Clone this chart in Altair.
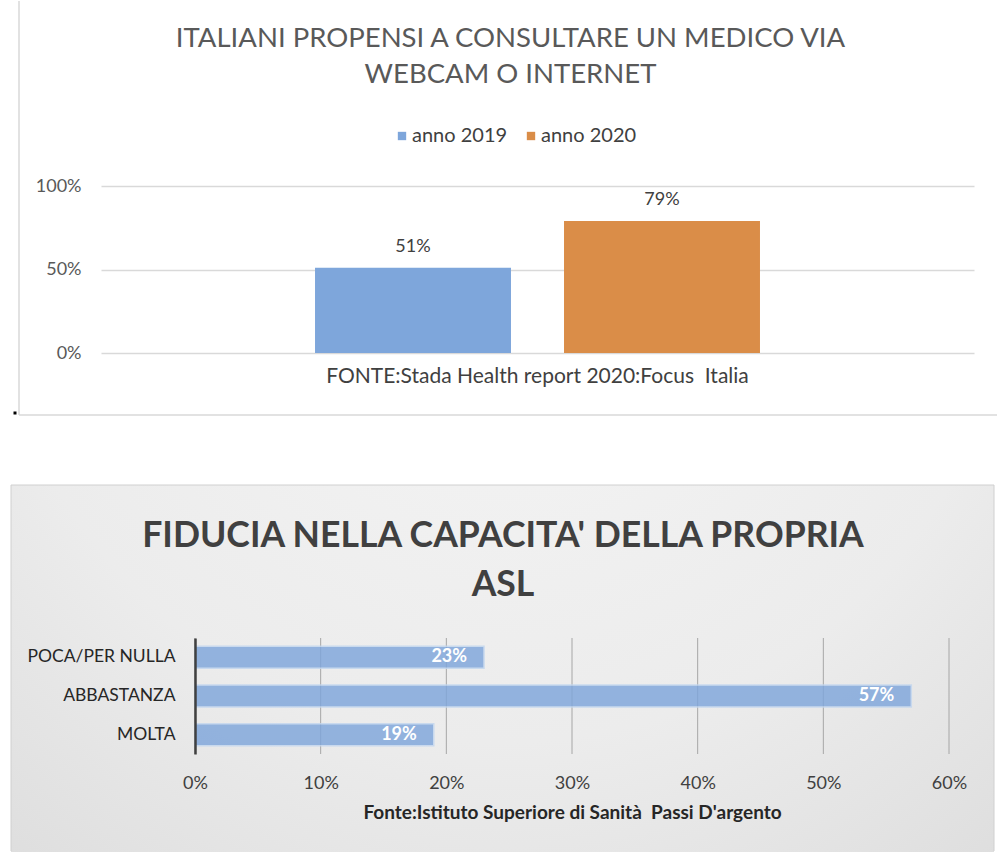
import altair as alt
import pandas as pd

# --- data -------------------------------------------------------------
years = ["anno 2019", "anno 2020"]
propensi = [0.51, 0.79]
fonte_top = "FONTE:Stada Health report 2020:Focus\u00a0 Italia"
year_colors = ["#7EA6DB", "#DA8D48"]

livelli = ["POCA/PER NULLA", "ABBASTANZA", "MOLTA"]
fiducia = [0.23, 0.57, 0.19]
fiducia_ticks = [0.0, 0.1, 0.2, 0.3, 0.4, 0.5, 0.6]
fonte_bottom = "Fonte:Istituto Superiore di Sanità\u00a0 Passi D'argento"

FONT = "Lato"

top_df = pd.DataFrame({"fonte": [fonte_top] * len(years), "anno": years, "quota": propensi})
bot_df = pd.DataFrame({"livello": livelli, "quota": fiducia})
tick_df = pd.DataFrame({"quota": fiducia_ticks})
frame = alt.Data(values=[{"k": 0}])

# --- top chart: vertical grouped bars ---------------------------------
x_top = alt.X(
    "fonte:N", title=None,
    scale=alt.Scale(paddingInner=0, paddingOuter=0.481),
    axis=alt.Axis(labelAngle=0, domain=False, ticks=False, labelPadding=12,
                  labelFontSize=21, labelColor="#404040", labelLimit=0),
)
xo_top = alt.XOffset("anno:N", sort=years,
                     scale=alt.Scale(paddingInner=0.213, paddingOuter=0))
y_top = alt.Y(
    "quota:Q", title=None, scale=alt.Scale(domain=[0, 1]),
    axis=alt.Axis(values=[0, 0.5, 1], format=".0%", domain=False, ticks=False,
                  labelPadding=20, labelFontSize=18, labelColor="#595959",
                  gridColor="#d9d9d9", gridWidth=1.5),
)

bars_top = alt.Chart(top_df).mark_bar().encode(
    x=x_top, xOffset=xo_top, y=y_top,
    color=alt.Color(
        "anno:N", sort=years,
        scale=alt.Scale(domain=years, range=year_colors),
        legend=alt.Legend(title=None, orient="none", legendX=291, legendY=-60,
                          direction="horizontal", symbolType="square",
                          symbolSize=70, symbolStrokeWidth=0,
                          labelFontSize=20, labelColor="#404040",
                          columnPadding=13, labelOffset=0),
    ),
)
labels_top = alt.Chart(top_df).mark_text(
    baseline="alphabetic", dy=-16, fontSize=18, color="#404040"
).encode(x=x_top, xOffset=xo_top, y=y_top, text=alt.Text("quota:Q", format=".0%"))

border_left = alt.Chart(frame).mark_rule(color="#d9d9d9", strokeWidth=1.5).encode(
    x=alt.value(-82), y=alt.value(-185), y2=alt.value(229))
border_bottom = alt.Chart(frame).mark_rule(color="#d9d9d9", strokeWidth=1.5).encode(
    x=alt.value(-82), x2=alt.value(896), y=alt.value(229))
stray_dot = alt.Chart(frame).mark_square(size=9, color="black", opacity=1).encode(
    x=alt.value(-86), y=alt.value(227))

top = alt.layer(border_left, border_bottom, stray_dot, bars_top, labels_top).properties(
    width=873, height=167,
    title=alt.Title(["ITALIANI PROPENSI A CONSULTARE UN MEDICO VIA", "WEBCAM O INTERNET"],
                    font=FONT, fontSize=27.5, fontWeight="normal", color="#595959",
                    lineHeight=36, anchor="middle", baseline="alphabetic",
                    offset=-110, dx=-27),
)

# --- bottom chart: horizontal bars on a shaded panel ------------------
panel_fill = alt.RadialGradient(
    gradient="radial",
    stops=[alt.GradientStop(color="#f6f6f6", offset=0),
           alt.GradientStop(color="#ececec", offset=0.5),
           alt.GradientStop(color="#d3d3d3", offset=1)],
    x1=0.5, y1=0.05, r1=0, x2=0.5, y2=0.05, r2=1.05,
)
panel = alt.Chart(frame).mark_rect(fill=panel_fill).encode(
    x=alt.value(-90), x2=alt.value(893), y=alt.value(-153), y2=alt.value(214))
panel_edge_style = dict(color="#d0d0d0", strokeWidth=1)
panel_left = alt.Chart(frame).mark_rule(**panel_edge_style).encode(
    x=alt.value(-90), y=alt.value(-153), y2=alt.value(213))
panel_right = alt.Chart(frame).mark_rule(**panel_edge_style).encode(
    x=alt.value(893), y=alt.value(-153), y2=alt.value(213))
panel_top = alt.Chart(frame).mark_rule(**panel_edge_style).encode(
    x=alt.value(-90), x2=alt.value(893), y=alt.value(-153))

x_scale = alt.Scale(domain=[0, 0.6], range=[94, 848])
x_axis = alt.Axis(values=fiducia_ticks, format=".0%", domain=False, ticks=False,
                  grid=False, labelFlush=False, labelPadding=20, labelFontSize=18,
                  labelColor="#404040", titleFont=FONT, titleFontSize=19,
                  titleFontWeight="bold", titleColor="#262626", titlePadding=11,
                  zindex=1)
x_bot = alt.X("quota:Q", title=fonte_bottom, scale=x_scale, axis=x_axis)
y_bot = alt.Y(
    "livello:N", sort=livelli, title=None,
    scale=alt.Scale(paddingInner=0.43, paddingOuter=0.215),
    axis=alt.Axis(offset=-94, domainColor="#404040", domainWidth=2.5, ticks=False,
                  labelPadding=20, labelFontSize=17.5, labelColor="#262626",
                  zindex=1),
)

# vertical guide lines at each tick, kept under the bars
grid_bot = alt.Chart(tick_df).mark_rule(color="#a6a6a6", strokeWidth=1).encode(x=x_bot)
bars_bot = alt.Chart(bot_df).mark_bar(
    color="#7FA6DB", opacity=0.82, stroke="#c2d6ef", strokeWidth=1.5
).encode(x=x_bot, y=y_bot)
labels_bot = alt.Chart(bot_df).mark_text(
    align="right", dx=-17, fontSize=18, fontWeight="bold", color="white"
).encode(x=x_bot, y=y_bot, text=alt.Text("quota:Q", format=".0%"))

bottom = alt.layer(panel, panel_left, panel_right, panel_top,
                   grid_bot, bars_bot, labels_bot).properties(
    width=848, height=116,
    title=alt.Title(["FIDUCIA NELLA CAPACITA' DELLA PROPRIA", "ASL"],
                    font=FONT, fontSize=35.6, fontWeight="bold", color="#404040",
                    lineHeight=49, anchor="middle", baseline="alphabetic",
                    offset=-147, dx=-22),
)

chart = alt.vconcat(top, bottom, spacing=68).properties(
    padding={"left": 10, "top": 0, "right": 0, "bottom": 0}
).configure(font=FONT).configure_view(stroke=None)

chart.save("out.html", embed_options={"renderer": "svg", "actions": False})
